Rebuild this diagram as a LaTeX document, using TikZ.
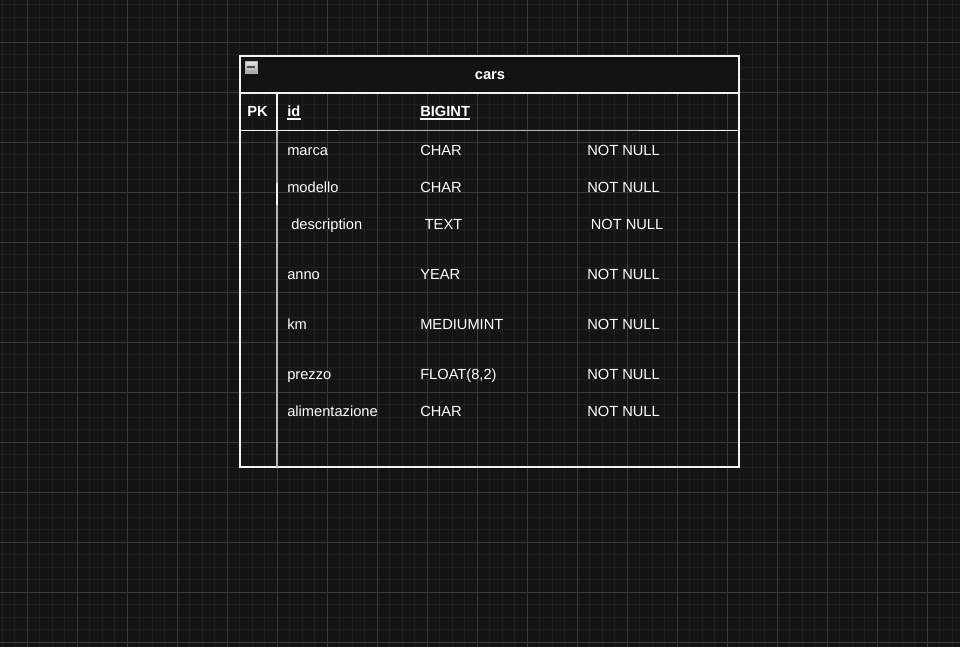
\documentclass[tikz,border=0pt]{standalone}
\usepackage{fontspec}
\setmainfont{Liberation Sans}
\definecolor{bgc}{HTML}{141414}
\definecolor{hdrc}{HTML}{121212}
\definecolor{minorc}{HTML}{1F1F1F}
\definecolor{majorc}{HTML}{3A3A3A}
\definecolor{bordc}{HTML}{F2F2F2}
\definecolor{dimc}{HTML}{B4B4B4}
\begin{document}
\begin{tikzpicture}[x=0.75pt,y=-0.75pt,
  txt/.style={inner sep=0pt, anchor=base west, text=white, font=\fontsize{11}{13}\selectfont},
  boldtxt/.style={txt, font=\fontsize{11}{13}\selectfont\bfseries},
  border/.style={draw=bordc, line width=0.9pt},
  minorline/.style={draw=minorc, line width=0.75pt},
  majorline/.style={draw=majorc, line width=0.75pt}]
\fill[bgc] (0,0) rectangle (960,647);
\useasboundingbox (0,0) rectangle (960,647);
% grid
\foreach \i in {0,...,76} \draw[minorline] ({2.3+12.5*\i},0) -- ({2.3+12.5*\i},647);
\foreach \j in {0,...,51} \draw[minorline] (0,{4.5+12.5*\j}) -- (960,{4.5+12.5*\j});
\foreach \i in {0,...,18} \draw[majorline] ({27.3+50*\i},0) -- ({27.3+50*\i},647);
\foreach \j in {0,...,12} \draw[majorline] (0,{42+50*\j}) -- (960,{42+50*\j});
% table
\coordinate (tl) at (240,56);
\coordinate (br) at (739,467);
\fill[hdrc] (240,56) rectangle (739,93);
\draw[border] (tl) rectangle (br);
\coordinate (h1) at (240,93); \coordinate (h2) at (739,93);
\draw[border] (h1) -- (h2);
\coordinate (s1) at (240,130.5); \coordinate (s2) at (338,130.5);
\coordinate (s3) at (639,130.5); \coordinate (s4) at (739,130.5);
\draw[border] (s1) -- (s2);
\draw[draw=dimc, line width=0.9pt] (s2) -- (s3);
\draw[border] (s3) -- (s4);
\coordinate (d1) at (277,93); \coordinate (d2) at (277,130.5); \coordinate (d3) at (277,467);
\draw[border] (d1) -- (d2);
\draw[draw=dimc, line width=0.9pt] (d2) -- (d3);
\coordinate (w1) at (277,183); \coordinate (w2) at (277,205);
\draw[border] (w1) -- (w2);
% icon
\node[inner sep=0pt, minimum size=9pt, draw=gray!60, top color=gray!20, bottom color=gray!70] (icon) at (251,67) {};
\draw[draw=black!70, line width=1.5pt] ([xshift=1.5pt]icon.west) -- ([xshift=-1.5pt]icon.east);
% header texts
\node[boldtxt, anchor=base] (title) at (490,79.3) {cars};
\node[boldtxt, anchor=base] (pk) at (257.5,116.5) {PK};
\node[boldtxt] (id) at (287,116.5) {id};
\node[boldtxt] (bigint) at (420,116.5) {BIGINT};
\draw[white, line width=1.1pt] ([yshift=-1.8pt]id.base west) -- ([yshift=-1.8pt]id.base east);
\draw[white, line width=1.1pt] ([yshift=-1.8pt]bigint.base west) -- ([yshift=-1.8pt]bigint.base east);
% rows
\node[txt] (n1) at (287,155) {marca};
\node[txt] (t1) at (420,155) {CHAR};
\node[txt] (c1) at (587,155) {NOT NULL};
\node[txt] (n2) at (287,192) {modello};
\node[txt] (t2) at (420,192) {CHAR};
\node[txt] (c2) at (587,192) {NOT NULL};
\node[txt] (n3) at (291,229) {description};
\node[txt] (t3) at (424.5,229) {TEXT};
\node[txt] (c3) at (590.5,229) {NOT NULL};
\node[txt] (n4) at (287,279.3) {anno};
\node[txt] (t4) at (420,279.3) {YEAR};
\node[txt] (c4) at (587,279.3) {NOT NULL};
\node[txt] (n5) at (287,329.3) {km};
\node[txt] (t5) at (420,329.3) {MEDIUMINT};
\node[txt] (c5) at (587,329.3) {NOT NULL};
\node[txt] (n6) at (287,379.3) {prezzo};
\node[txt] (t6) at (420,379.3) {FLOAT(8,2)};
\node[txt] (c6) at (587,379.3) {NOT NULL};
\node[txt] (n7) at (287,416.5) {alimentazione};
\node[txt] (t7) at (420,416.5) {CHAR};
\node[txt] (c7) at (587,416.5) {NOT NULL};
\end{tikzpicture}
\end{document}
